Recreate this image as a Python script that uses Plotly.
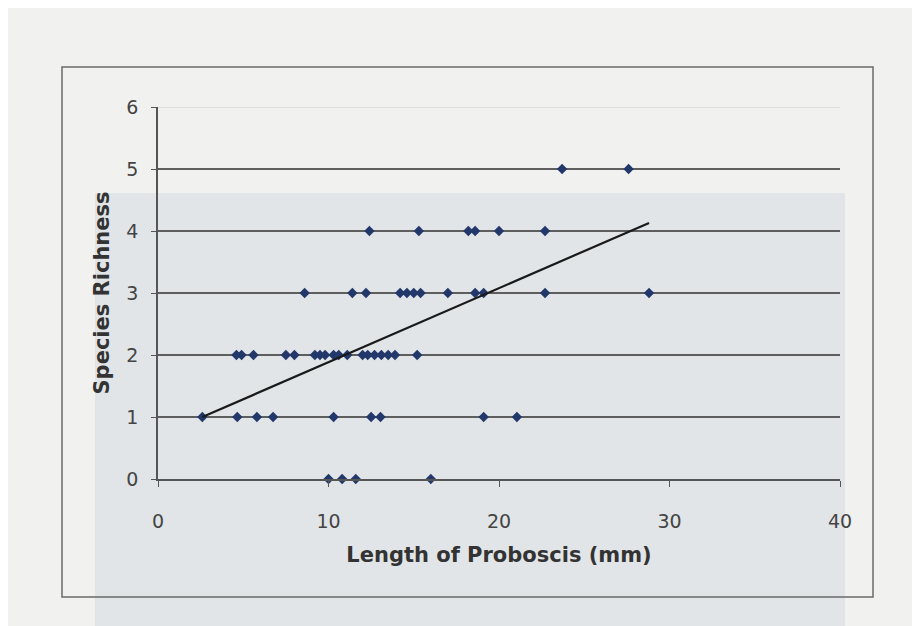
import plotly.graph_objects as go

# Data (Length of proboscis in mm, species richness)
richness_0 = [10.0, 10.8, 11.6, 16.0]
richness_1 = [2.6, 4.65, 5.8, 6.75, 10.3, 12.5, 13.05, 19.1, 21.05]
richness_2 = [4.6, 4.9, 5.6, 7.5, 8.0, 9.2, 9.5, 9.8, 10.3, 10.6, 11.1,
              12.0, 12.3, 12.7, 13.1, 13.5, 13.9, 15.2]
richness_3 = [8.6, 11.4, 12.2, 14.2, 14.6, 15.0, 15.4, 17.0, 18.6, 19.1, 22.7, 28.8]
richness_4 = [12.4, 15.3, 18.2, 18.6, 20.0, 22.7]
richness_5 = [23.7, 27.6]

trend_x = [2.6, 28.8]
trend_y = [1.0, 4.13]

x_ticks = [0, 10, 20, 30, 40]
y_ticks = [0, 1, 2, 3, 4, 5, 6]

groups = [richness_0, richness_1, richness_2, richness_3, richness_4, richness_5]
xs, ys = [], []
for level, vals in enumerate(groups):
    xs += vals
    ys += [level] * len(vals)

fig = go.Figure()
fig.add_trace(go.Scatter(
    x=xs, y=ys, mode="markers",
    marker=dict(symbol="diamond", size=8, color="#22386a"),
    showlegend=False, cliponaxis=False))
fig.add_trace(go.Scatter(
    x=trend_x, y=trend_y, mode="lines",
    line=dict(color="#1a1a1a", width=2.2), showlegend=False))

OFF = 8  # page body margin
FW, FH = 920 - OFF, 626 - OFF
L, R, T, B = 158 - OFF, 840 - OFF, 107 - OFF, 479 - OFF
W, H = R - L, B - T
def px(x): return (x - OFF - L) / W
def py(y): return (B - (y - OFF)) / H

shapes = [
    # scanned grey tint over lower part
    dict(type="rect", xref="paper", yref="paper", layer="below",
         x0=px(95), x1=px(845), y0=py(193), y1=py(640),
         fillcolor="#e1e5e7", line=dict(width=0)),
    # outer chart border
    dict(type="rect", xref="paper", yref="paper", layer="above",
         x0=px(62), x1=px(873), y0=py(597), y1=py(67),
         line=dict(color="#6a6a6a", width=1.5)),
    # faint top gridline at 6
    dict(type="line", xref="x", yref="y", layer="above",
         x0=0, x1=40, y0=6, y1=6, line=dict(color="#d8dad8", width=1.5)),
]

tick_font = dict(family="DejaVu Sans, sans-serif", size=19, color="#444444")
title_font = dict(family="DejaVu Sans, sans-serif", size=21, color="#333333")

fig.update_layout(
    width=FW, height=FH,
    margin=dict(l=L, r=FW - R, t=T, b=FH - B),
    paper_bgcolor="#f1f2f0", plot_bgcolor="rgba(0,0,0,0)",
    font=dict(family="DejaVu Sans, sans-serif", size=19, color="#333333"),
    shapes=shapes,
    xaxis=dict(range=[0, 40], tickvals=x_ticks, showgrid=False, zeroline=False,
               showline=True, linecolor="#555555", linewidth=1.5,
               ticks="outside", ticklen=6, tickcolor="#555555",
               tickfont=tick_font, ticklabelstandoff=18,
               title=dict(text="<b>Length of Proboscis (mm)</b>", standoff=17,
                          font=title_font)),
    yaxis=dict(range=[0, 6], tickvals=y_ticks, showgrid=True, gridcolor="#5e5e5e",
               gridwidth=1.5, zeroline=False,
               showline=True, linecolor="#555555", linewidth=1.5,
               ticks="outside", ticklen=5, tickcolor="#555555",
               tickfont=tick_font, ticklabelstandoff=9,
               title=dict(text="<b>Species Richness</b>", standoff=11,
                          font=title_font)),
)

fig.write_html("out.html")
